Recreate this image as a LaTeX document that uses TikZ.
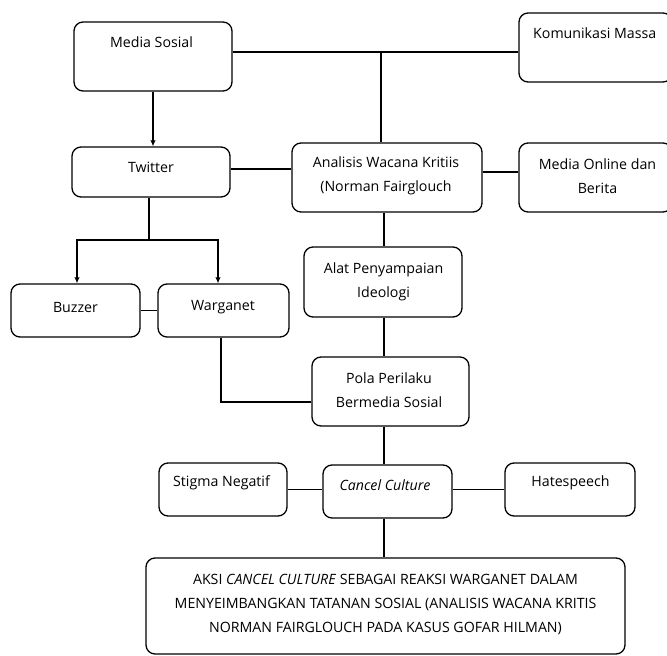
\documentclass[tikz,border=0pt]{standalone}
\usepackage{fontspec}
\setmainfont{Open Sans}
\usetikzlibrary{calc,arrows.meta}
\begin{document}
\begin{tikzpicture}[x=1pt,y=-1pt,
  box/.style={draw, line width=1.3pt, rounded corners=9pt, inner sep=0pt, align=center},
  lbl/.style={inner sep=0pt, align=center, font=\fontsize{14.2}{24}\selectfont},
  conn/.style={line width=1.3pt},
  arr/.style={conn, -{Latex[length=6pt,width=5.5pt]}}
]
\useasboundingbox (0,0) rectangle (667,656);
% boxes
\node[box, minimum width=158, minimum height=69] (ms) at (153,56.5) {};
\node[lbl] (msl) at (151.5,42) {Media Sosial};
\node[box, minimum width=153, minimum height=69] (kom) at (595.5,47.5) {};
\node[lbl, anchor=west] (koml) at (533,33) {Komunikasi Massa};
\node[box, minimum width=158, minimum height=50] (tw) at (151,172) {};
\node[lbl] (twl) at (151,167) {Twitter};
\node[box, minimum width=190, minimum height=69] (awk) at (387,177.5) {};
\node[lbl] (awkl) at (386,175.5) {Analisis Wacana Kritiis\\(Norman Fairglouch};
\node[box, minimum width=153, minimum height=69] (mo) at (595.5,177.5) {};
\node[lbl] (mol) at (597.5,176) {Media Online dan\\Berita};
\node[box, minimum width=129, minimum height=53] (bz) at (75.5,310.5) {};
\node[lbl] (bzl) at (75.5,307) {Buzzer};
\node[box, minimum width=131, minimum height=53] (wg) at (223.5,310.5) {};
\node[lbl] (wgl) at (223,307) {Warganet};
\node[box, minimum width=158, minimum height=70] (alat) at (383,282) {};
\node[lbl] (alatl) at (383.5,281.5) {Alat Penyampaian\\Ideologi};
\node[box, minimum width=157, minimum height=69] (pola) at (390.5,391.5) {};
\node[lbl] (polal) at (389,390) {Pola Perilaku\\Bermedia Sosial};
\node[box, minimum width=129, minimum height=53] (cc) at (387.5,491.5) {};
\node[lbl] (ccl) at (385,485) {\itshape Cancel Culture};
\node[box, minimum width=128, minimum height=53] (st) at (223,489.5) {};
\node[lbl] (stl) at (221.5,483) {Stigma Negatif};
\node[box, minimum width=130, minimum height=53] (hs) at (570,489.5) {};
\node[lbl] (hsl) at (570.5,483) {Hatespeech};
\node[box, minimum width=479, minimum height=96] (fin) at (385.5,606) {};
\node[lbl] (finl) at (385.5,604) {AKSI \textit{CANCEL CULTURE} SEBAGAI REAKSI WARGANET DALAM\\MENYEIMBANGKAN TATANAN SOSIAL (ANALISIS WACANA KRITIS\\NORMAN FAIRGLOUCH PADA KASUS GOFAR HILMAN)};
% connectors
\coordinate (j1) at (381,52);
\draw[conn] (j1 -| ms.east) -- (j1 -| kom.west);
\draw[conn] (j1) -- (j1 |- awk.north);
\draw[arr] (ms.south) -- (ms.south |- tw.north);
\draw[conn] ([yshift=3pt]tw.east) -- ([yshift=3pt]tw.east -| awk.west);
\draw[conn] ([yshift=5.5pt]awk.east) -- ([yshift=5.5pt]awk.east -| mo.west);
\coordinate (j2) at (149,240);
\draw[conn] (j2 |- tw.south) -- (j2);
\draw[arr] (j2) -| ([xshift=1.5pt]bz.north);
\draw[arr] (j2) -| ([xshift=-5.5pt]wg.north);
\draw[conn] (bz.east) -- (wg.west);
\coordinate (j3) at (384,0);
\draw[conn] (j3 |- awk.south) -- (j3 |- alat.north);
\draw[conn] (j3 |- alat.south) -- (j3 |- pola.north);
\draw[conn] ([xshift=-2.5pt]wg.south) |- ($(pola.west)+(0,10.5)$);
\draw[conn] (j3 |- pola.south) -- (j3 |- cc.north);
\draw[conn] (st.east) -- (st.east -| cc.west);
\draw[conn] ([yshift=2pt]cc.east) -- ([yshift=2pt]cc.east -| hs.west);
\draw[conn] (j3 |- cc.south) -- (j3 |- fin.north);
\end{tikzpicture}
\end{document}
